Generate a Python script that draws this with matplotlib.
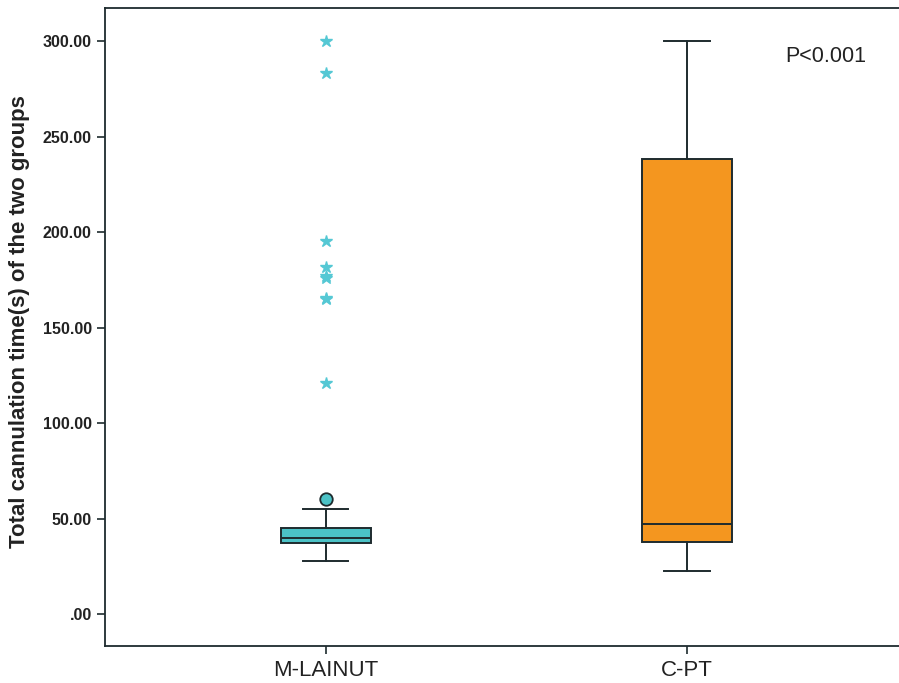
import matplotlib
matplotlib.use("Agg")
import matplotlib.pyplot as plt

plt.rcParams['font.family'] = ['Liberation Sans', 'DejaVu Sans']

# data
groups = ["M-LAINUT", "C-PT"]
whisker_low = [27.7, 22.5]
q1 = [37.2, 37.7]
medians = [39.8, 47.1]
q3 = [45.0, 238.0]
whisker_high = [55.0, 300.0]
mild_outliers = [[60.2], []]
extreme_outliers = [[300.0, 283.4, 195.3, 181.8, 177.0, 176.0, 165.6, 165.0, 120.9], []]
y_ticks = [0, 50, 100, 150, 200, 250, 300]
y_tick_labels = [".00", "50.00", "100.00", "150.00", "200.00", "250.00", "300.00"]
box_colors = ["#4BC2C6", "#F4961F"]
star_color = "#55C8D4"
edge = "#1E2B2E"

stats = []
for i, name in enumerate(groups):
    stats.append({"label": name, "whislo": whisker_low[i], "q1": q1[i], "med": medians[i],
                  "q3": q3[i], "whishi": whisker_high[i], "fliers": []})

fig = plt.figure(figsize=(8.99, 6.83), dpi=100)
ax = fig.add_axes([0.1168, 0.0542, 0.892, 0.934])

lw = 1.4
positions = [1, 2]
bp = ax.bxp(stats, positions=positions, widths=0.25, patch_artist=True, showfliers=False,
            boxprops=dict(edgecolor=edge, linewidth=lw),
            medianprops=dict(color=edge, linewidth=lw),
            whiskerprops=dict(color=edge, linewidth=lw),
            capprops=dict(color=edge, linewidth=lw),
            capwidths=0.126)
for patch, c in zip(bp["boxes"], box_colors):
    patch.set_facecolor(c)

for pos, vals in zip(positions, mild_outliers):
    if vals:
        ax.plot([pos] * len(vals), vals, "o", markersize=9, markerfacecolor=box_colors[0],
                markeredgecolor=edge, markeredgewidth=1.3, linestyle="none")
for pos, vals in zip(positions, extreme_outliers):
    if vals:
        ax.plot([pos] * len(vals), vals, "*", markersize=9, color=star_color, linestyle="none")

ax.set_xlim(0.389, 2.609)
ax.set_ylim(-16.75, 317.3)
ax.set_yticks(y_ticks)
ax.set_yticklabels(y_tick_labels, fontsize=11.5, fontweight="bold", color="#222222")
ax.set_xticks(positions)
ax.set_xticklabels(groups, fontsize=16, color="#222222")
ax.tick_params(axis="both", direction="out", length=6, width=1.2, color=edge)
ax.tick_params(axis="x", pad=4)
for s in ax.spines.values():
    s.set_linewidth(1.3)
    s.set_color(edge)

ax.set_ylabel("Total cannulation time(s) of the two groups", fontsize=16,
              fontweight="bold", color="#222222")
ax.yaxis.set_label_coords(-0.094, 0.509)
ax.text(2.385, 292, "P<0.001", fontsize=15.5, color="#222222", ha="center", va="center")

fig.savefig("out.png", dpi=100, facecolor="white")
